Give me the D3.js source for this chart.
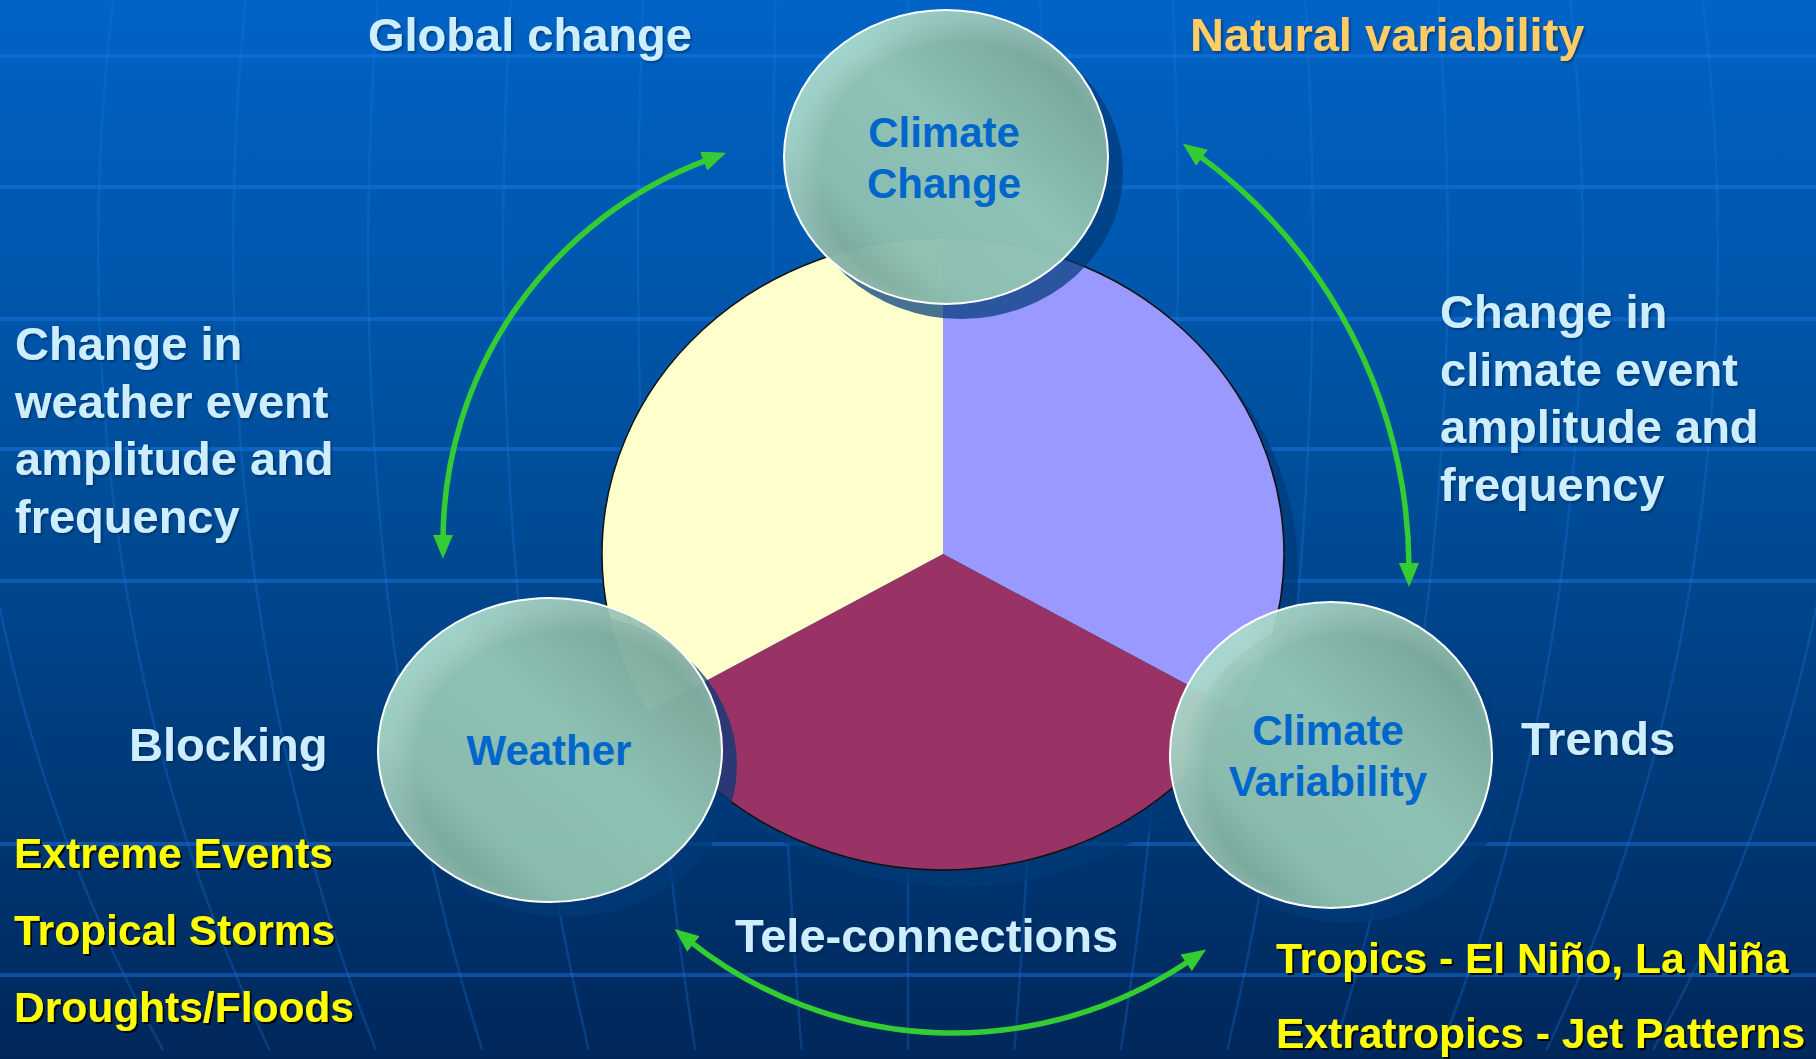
<!DOCTYPE html>
<html lang="en">
<head>
    <meta charset="UTF-8">
    <title>Weather, Climate Variability and Climate Change</title>
    <script src="https://d3js.org/d3.v7.min.js"></script>
    <style>
        html, body { margin: 0; padding: 0; overflow: hidden; background: #003a7a; }
        svg { display: block; }
        text { font-family: "Liberation Sans", Arial, sans-serif; font-weight: bold; }
    </style>
</head>
<body>
<div id="chart"></div>
<script>
// ---- data ----
var sectorNames  = ["Climate Change / Climate Variability", "Climate Variability / Weather", "Weather / Climate Change"];
var sectorValues = [1, 1, 1];
var nodeNames    = [["Climate", "Change"], ["Weather"], ["Climate", "Variability"]];
var topLabels    = ["Global change", "Natural variability"];
var weatherNotes = ["Change in", "weather event", "amplitude and", "frequency"];
var climateNotes = ["Change in", "climate event", "amplitude and", "frequency"];
var sideTerms    = ["Blocking", "Trends", "Tele-connections"];
var weatherItems = ["Extreme Events", "Tropical Storms", "Droughts/Floods"];
var variabilityItems = ["Tropics - El Niño, La Niña", "Extratropics - Jet Patterns"];

// ---- layout ----
var W = 1816, H = 1059;
var pieCx = 943, pieCy = 554, pieR = 341, pieRy = 316;
var sectorColors = ["#9999ff", "#993366", "#ffffcc"];
var nodes = [
    {cx: 946, cy: 157, rx: 162, ry: 147, tx: 944},
    {cx: 550, cy: 750, rx: 172, ry: 152, tx: 549},
    {cx: 1331, cy: 755, rx: 161, ry: 153, tx: 1328}
];
// arrows: circle centre, radius, start / end tip angles (degrees, screen coords)
var arrows = [
    {cx: 850, cy: 541, r: 407, a0: 177.5, a1: 252.3},
    {cx: 895, cy: 570, r: 514, a0: -56.0, a1: 1.9},
    {cx: 953, cy: 610, r: 423, a0: 131.1, a1: 53.3}
];
var light = "#cceeff", orange = "#ffcc66", yellow = "#ffff00", nodeBlue = "#0066cc";

var svg = d3.select("#chart").append("svg")
    .attr("width", W)
    .attr("height", H);
var defs = svg.append("defs");

// background
var bg = defs.append("linearGradient").attr("id", "bg")
    .attr("x1", 0).attr("y1", 0).attr("x2", 0).attr("y2", 1);
bg.append("stop").attr("offset", "0%").attr("stop-color", "#0063c6");
bg.append("stop").attr("offset", "45%").attr("stop-color", "#004e9a");
bg.append("stop").attr("offset", "100%").attr("stop-color", "#00275a");
svg.append("rect").attr("width", W).attr("height", H).attr("fill", "url(#bg)");

// globe grid
var grid = svg.append("g").attr("fill", "none").attr("stroke", "#1a7ae6");
[56, 187, 319, 449, 581, 844, 975].forEach(function(y) {
    grid.append("line").attr("x1", 0).attr("x2", W).attr("y1", y).attr("y2", y)
        .attr("stroke-width", 4).attr("stroke-opacity", 0.45);
});
var meridian = d3.line().curve(d3.curveBasis);
d3.range(-7, 8).forEach(function(i) {
    var d = i * 135, pts = [];
    d3.range(0, H + 1, 50).forEach(function(y) {
        var t = (y - 250) / 1300;
        pts.push([908 + d * Math.sqrt(1 - t * t), y]);
    });
    grid.append("path").attr("d", meridian(pts))
        .attr("stroke-width", 2.5).attr("stroke-opacity", 0.28);
});

// filters
var f = defs.append("filter").attr("id", "tshadow")
    .attr("x", "-5%").attr("y", "-20%").attr("width", "115%").attr("height", "150%");
f.append("feDropShadow").attr("dx", 2).attr("dy", 2).attr("stdDeviation", 0.7)
    .attr("flood-color", "#000").attr("flood-opacity", 0.85);
var f2 = defs.append("filter").attr("id", "lshadow")
    .attr("x", "-5%").attr("y", "-20%").attr("width", "115%").attr("height", "150%");
f2.append("feDropShadow").attr("dx", 1.5).attr("dy", 1.5).attr("stdDeviation", 0.8)
    .attr("flood-color", "#001a40").attr("flood-opacity", 0.6);

// pie
svg.append("ellipse")
    .attr("cx", pieCx + 14).attr("cy", pieCy + 17)
    .attr("rx", pieR).attr("ry", pieRy)
    .attr("fill", "#003a78").attr("fill-opacity", 0.72);

var pie = d3.pie().sort(null).value(function(d) { return d; });
var arc = d3.arc().innerRadius(0).outerRadius(pieR);
var pieG = svg.append("g")
    .attr("transform", "translate(" + pieCx + "," + pieCy + ") scale(1," + (pieRy / pieR) + ")");
pieG.selectAll("path")
    .data(pie(sectorValues))
    .join("path")
    .attr("d", arc)
    .attr("fill", function(d, i) { return sectorColors[i]; })
    .append("title").text(function(d, i) { return sectorNames[i]; });
pieG.append("circle").attr("r", pieR)
    .attr("fill", "none").attr("stroke", "#111").attr("stroke-width", 1.5)
    .attr("vector-effect", "non-scaling-stroke");

// glass ellipses
var glass = defs.append("linearGradient").attr("id", "glass")
    .attr("x1", 1).attr("y1", 0).attr("x2", 0).attr("y2", 1);
glass.append("stop").attr("offset", "0%").attr("stop-color", "#6a9484");
glass.append("stop").attr("offset", "22%").attr("stop-color", "#89b8a4");
glass.append("stop").attr("offset", "45%").attr("stop-color", "#9dd0bb");
glass.append("stop").attr("offset", "72%").attr("stop-color", "#97c9b4");
glass.append("stop").attr("offset", "100%").attr("stop-color", "#668f7e");

var rim = defs.append("radialGradient").attr("id", "rim")
    .attr("cx", 0.55).attr("cy", 0.55).attr("r", 0.55);
rim.append("stop").attr("offset", "80%").attr("stop-color", "#ffffff").attr("stop-opacity", 0);
rim.append("stop").attr("offset", "100%").attr("stop-color", "#bff0ea").attr("stop-opacity", 0.35);

svg.selectAll(".nshadow")
    .data(nodes)
    .join("ellipse")
    .attr("class", "nshadow")
    .attr("cx", function(d) { return d.cx + 15; })
    .attr("cy", function(d) { return d.cy + 15; })
    .attr("rx", function(d) { return d.rx; })
    .attr("ry", function(d) { return d.ry; })
    .attr("fill", "#003a78").attr("fill-opacity", 0.72);

svg.selectAll(".node")
    .data(nodes)
    .join("ellipse")
    .attr("class", "node")
    .attr("cx", function(d) { return d.cx; })
    .attr("cy", function(d) { return d.cy; })
    .attr("rx", function(d) { return d.rx; })
    .attr("ry", function(d) { return d.ry; })
    .attr("fill", "url(#glass)").attr("fill-opacity", 0.9);

svg.selectAll(".rim")
    .data(nodes)
    .join("ellipse")
    .attr("class", "rim")
    .attr("cx", function(d) { return d.cx; })
    .attr("cy", function(d) { return d.cy; })
    .attr("rx", function(d) { return d.rx; })
    .attr("ry", function(d) { return d.ry; })
    .attr("fill", "url(#rim)")
    .attr("stroke", "#ffffff").attr("stroke-width", 2);

nodes.forEach(function(d, i) {
    var lines = nodeNames[i];
    var t = svg.append("text")
        .attr("text-anchor", "middle")
        .attr("font-size", 42)
        .attr("fill", nodeBlue);
    lines.forEach(function(s, j) {
        t.append("tspan")
            .attr("x", d.tx)
            .attr("y", d.cy + 15 - (lines.length - 1) * 25 + j * 51)
            .text(s);
    });
});

// arrows
defs.append("marker").attr("id", "head")
    .attr("viewBox", "0 0 24 20")
    .attr("refX", 4).attr("refY", 10)
    .attr("markerWidth", 24).attr("markerHeight", 20)
    .attr("markerUnits", "userSpaceOnUse")
    .attr("orient", "auto-start-reverse")
    .append("path").attr("d", "M0,0 L24,10 L0,20 Z").attr("fill", "#33cc33");

var rad = Math.PI / 180;
arrows.forEach(function(a) {
    var ccw = a.a1 < a.a0;
    var trim = 20 / a.r;
    var s = a.a0 * rad + (ccw ? -trim : trim);
    var e = a.a1 * rad + (ccw ? trim : -trim);
    var p = d3.path();
    p.moveTo(a.cx + a.r * Math.cos(s), a.cy + a.r * Math.sin(s));
    p.arc(a.cx, a.cy, a.r, s, e, ccw);
    svg.append("path").attr("d", p.toString())
        .attr("fill", "none").attr("stroke", "#33cc33").attr("stroke-width", 5.5)
        .attr("marker-start", "url(#head)").attr("marker-end", "url(#head)");
});

// text blocks
function block(lines, x, y0, dy, size, color, filter) {
    svg.append("g").selectAll("text")
        .data(lines)
        .join("text")
        .attr("x", x)
        .attr("y", function(d, i) { return y0 + i * dy; })
        .attr("font-size", size)
        .attr("fill", color)
        .attr("filter", filter)
        .text(function(d) { return d; });
}
block([topLabels[0]], 368, 51, 0, 47, light, "url(#lshadow)");
block([topLabels[1]], 1190, 51, 0, 47, orange, "url(#lshadow)");
block(weatherNotes, 15, 360, 57.7, 47, light, "url(#lshadow)");
block(climateNotes, 1440, 328, 57.7, 47, light, "url(#lshadow)");
block([sideTerms[0]], 129, 761, 0, 47, light, "url(#lshadow)");
block([sideTerms[1]], 1521, 755, 0, 47, light, "url(#lshadow)");
block([sideTerms[2]], 735, 952, 0, 47, light, "url(#lshadow)");
block(weatherItems, 14, 868, 77, 42.5, yellow, "url(#tshadow)");
block(variabilityItems, 1276, 973, 75, 42.5, yellow, "url(#tshadow)");
</script>
</body>
</html>
